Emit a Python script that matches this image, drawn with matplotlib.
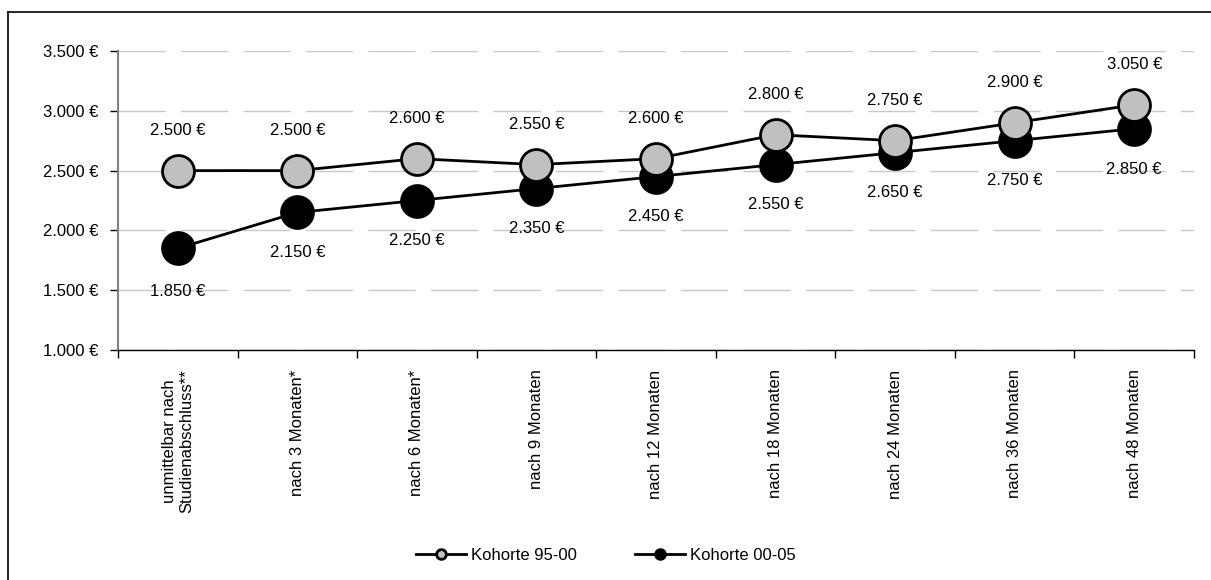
import matplotlib
matplotlib.use('Agg')
import matplotlib.pyplot as plt
from matplotlib.lines import Line2D

plt.rcParams['font.family'] = ['Liberation Sans Narrow', 'Liberation Sans', 'DejaVu Sans']

categories = ['unmittelbar nach\nStudienabschluss**', 'nach 3 Monaten*', 'nach 6 Monaten*',
              'nach 9 Monaten', 'nach 12 Monaten', 'nach 18 Monaten', 'nach 24 Monaten',
              'nach 36 Monaten', 'nach 48 Monaten']
kohorte_95_00 = [2500, 2500, 2600, 2550, 2600, 2800, 2750, 2900, 3050]
kohorte_00_05 = [1850, 2150, 2250, 2350, 2450, 2550, 2650, 2750, 2850]
y_ticks = [1000, 1500, 2000, 2500, 3000, 3500]


def euro(v):
    return '{:,.0f} €'.format(v).replace(',', '.')


fig = plt.figure(figsize=(12.11, 5.80), dpi=100)
ax = fig.add_axes([118 / 1211, 1 - 350 / 580, (1194 - 118) / 1211, (350 - 51) / 580])

x = list(range(len(categories)))
ax.plot(x, kohorte_95_00, color='black', lw=2, marker='o', markersize=23,
        markerfacecolor='#c0c0c0', markeredgecolor='black', markeredgewidth=2,
        label='Kohorte 95-00', zorder=4)
ax.plot(x, kohorte_00_05, color='black', lw=2, marker='o', markersize=23,
        markerfacecolor='black', markeredgecolor='black', markeredgewidth=2,
        label='Kohorte 00-05', zorder=3)

for i in x:
    ax.annotate(euro(kohorte_95_00[i]), (i, kohorte_95_00[i]), xytext=(0, 29),
                textcoords='offset points', ha='center', va='center', fontsize=12)
    off = -31 if i == 0 else -29
    ax.annotate(euro(kohorte_00_05[i]), (i, kohorte_00_05[i]), xytext=(0, off),
                textcoords='offset points', ha='center', va='center', fontsize=12)

ax.set_xlim(-0.5, len(categories) - 0.5)
ax.set_ylim(1000, 3500)
ax.set_yticks(y_ticks)
ax.set_yticklabels([euro(v) for v in y_ticks], fontsize=12)
ax.yaxis.grid(True, color='#c8c8c8', lw=1, linestyle=(0, (34, 11)))
ax.set_axisbelow(True)

ax.set_xticks(x)
ax.set_xticklabels(categories, rotation=90, fontsize=12, va='top', ha='center',
                   multialignment='center')
ax.tick_params(axis='x', which='major', length=0, pad=14)
ax.set_xticks([i - 0.5 for i in range(len(categories) + 1)], minor=True)
ax.tick_params(axis='x', which='minor', length=6, width=1, direction='out')
ax.tick_params(axis='y', length=6, width=1, direction='out', pad=8)

for s in ['top', 'right']:
    ax.spines[s].set_visible(False)
ax.spines['left'].set_color('#808080')
ax.spines['left'].set_linewidth(1.5)
ax.spines['bottom'].set_color('black')
ax.spines['bottom'].set_linewidth(1)

# Rahmen (links und oben)
fig.add_artist(Line2D([8 / 1211, 8 / 1211], [0, 1 - 12 / 580], color='black', lw=1.2))
fig.add_artist(Line2D([8 / 1211, 1], [1 - 12 / 580, 1 - 12 / 580], color='black', lw=1.2))

handles = [
    Line2D([], [], color='black', lw=2, marker='o', markersize=7,
           markerfacecolor='#c0c0c0', markeredgecolor='black', markeredgewidth=2),
    Line2D([], [], color='black', lw=2, marker='o', markersize=7,
           markerfacecolor='black', markeredgecolor='black', markeredgewidth=2),
]
fig.legend(handles, ['Kohorte 95-00', 'Kohorte 00-05'], loc='center',
           bbox_to_anchor=(0.5, 1 - 555 / 580), ncol=2, frameon=False, fontsize=12,
           handlelength=3.0, handletextpad=0.3, columnspacing=3.5)

plt.savefig('out.png', dpi=100)
